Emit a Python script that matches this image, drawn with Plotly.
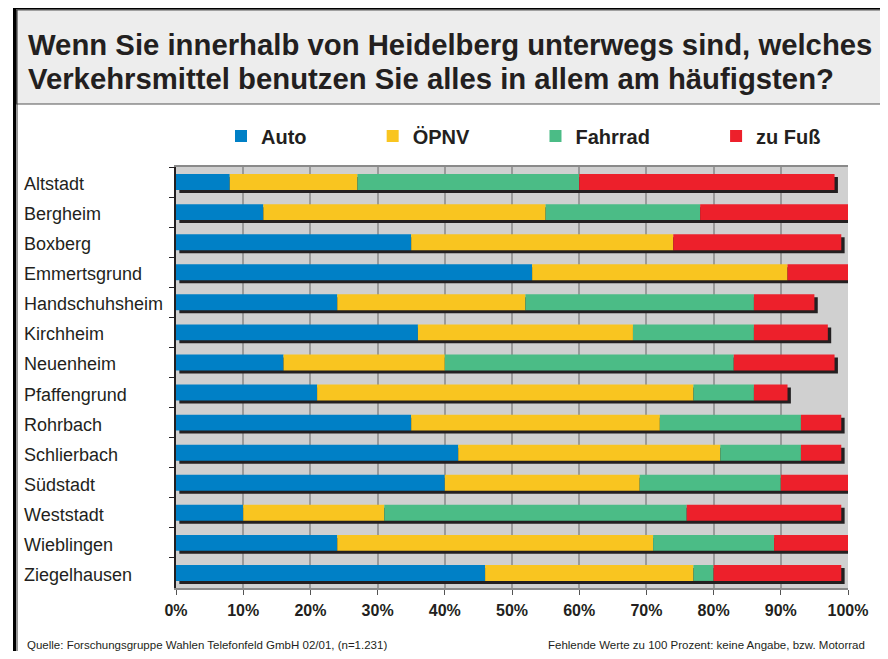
import numpy as np
import plotly.graph_objects as go

# Stadtteile und Anteile in Prozent
districts = ["Altstadt", "Bergheim", "Boxberg", "Emmertsgrund", "Handschuhsheim",
             "Kirchheim", "Neuenheim", "Pfaffengrund", "Rohrbach", "Schlierbach",
             "Südstadt", "Weststadt", "Wieblingen", "Ziegelhausen"]
auto =    [8, 13, 35, 53, 24, 36, 16, 21, 35, 42, 40, 10, 24, 46]
oepnv =   [19, 42, 39, 38, 28, 32, 24, 56, 37, 39, 29, 21, 47, 31]
fahrrad = [33, 23, 0, 0, 34, 18, 43, 9, 21, 12, 21, 45, 18, 3]
zu_fuss = [38, 22, 25, 9, 9, 11, 15, 5, 6, 6, 10, 23, 11, 19]

series = [("Auto", auto, "#0080c6"),
          ("ÖPNV", oepnv, "#f9c520"),
          ("Fahrrad", fahrrad, "#4bbc86"),
          ("zu Fuß", zu_fuss, "#ed202b")]

title_lines = ["Wenn Sie innerhalb von Heidelberg unterwegs sind, welches",
               "Verkehrsmittel benutzen Sie alles in allem am häufigsten?"]

tick_vals = list(range(0, 101, 10))
tick_text = [f"{v}%" for v in tick_vals]

FONT = "Liberation Sans, Arial, sans-serif"
DARK = "#231f20"

# the page body keeps an 8px margin all round, so the figure is drawn smaller
OFF = 8
W, H = 888 - 2 * OFF, 659 - 2 * OFF
# plot area in page pixels: 176..848 x 167..588
L, R, T, B = 176, 848, 167, 588
def px(x):
    return (x - L) / (R - L)
def py(y):
    return (B - y) / (B - T)

values = np.array([s[1] for s in series], dtype=float)
bases = np.vstack([np.zeros(len(districts)), np.cumsum(values, axis=0)[:-1]])
totals = values.sum(axis=0)

BAR_W = 0.53

fig = go.Figure()

# Schatten
fig.add_trace(go.Bar(y=districts, x=totals, base=0.5, orientation="h",
                     width=BAR_W, offset=-BAR_W / 2 + 0.1,
                     marker=dict(color=DARK, line=dict(width=0)),
                     showlegend=False, hoverinfo="skip"))

for i, ((name, vals, color), base) in enumerate(zip(series, bases)):
    pad = "\u00a0" * 11 if i < len(series) - 1 else ""
    fig.add_trace(go.Bar(y=districts, x=vals, base=base, orientation="h",
                         width=BAR_W, name=name + pad,
                         marker=dict(color=color, line=dict(width=0))))

fig.update_layout(
    width=W, height=H,
    barmode="overlay",
    paper_bgcolor="white",
    plot_bgcolor="#d0d0d0",
    margin=dict(l=L - OFF, r=(888 - OFF) - R, t=T - OFF, b=(659 - OFF) - B),
    font=dict(family=FONT, color=DARK),
    legend=dict(orientation="h", x=px(221), xanchor="left",
                y=py(136), yanchor="middle",
                font=dict(family=FONT, size=20, color=DARK, weight="bold"),
                traceorder="normal", bgcolor="rgba(0,0,0,0)"),
    showlegend=True,
)

fig.update_xaxes(range=[0, 100], tickvals=tick_vals, ticktext=tick_text,
                 showgrid=True, gridcolor="#9a9a9a", gridwidth=1.5,
                 showline=True, linecolor="#8a8a8a", linewidth=1.5, mirror=True,
                 ticks="outside", ticklen=5, tickcolor="#555",
                 tickfont=dict(family=FONT, size=16, color=DARK, weight="bold"),
                 ticklabelstandoff=2, zeroline=False, fixedrange=True)
fig.update_yaxes(autorange="reversed", showticklabels=False,
                 showline=True, linecolor=DARK, linewidth=1.5,
                 ticks="outside", tickson="boundaries", ticklen=5, tickcolor=DARK,
                 showgrid=False, fixedrange=True)

# Titel in zwei Zeilen
for line, ypix in zip(title_lines, [45, 79]):
    fig.add_annotation(x=px(26), xref="paper", xanchor="left", y=py(ypix), yref="paper",
                       yanchor="middle", text=line, showarrow=False,
                       font=dict(family=FONT, size=29.3, color=DARK, weight="bold"))

# Stadtteil-Beschriftung, linksbündig
for d in districts:
    fig.add_annotation(x=px(22), xref="paper", xanchor="left", y=d, yref="y",
                       yshift=-2, text=d, showarrow=False,
                       font=dict(family=FONT, size=18, color=DARK))

fig.add_annotation(x=px(25), xref="paper", xanchor="left", y=py(645), yref="paper",
                   yanchor="middle", showarrow=False,
                   text="Quelle: Forschungsgruppe Wahlen Telefonfeld GmbH 02/01, (n=1.231)",
                   font=dict(family=FONT, size=11.5, color=DARK))
fig.add_annotation(x=px(867), xref="paper", xanchor="right", y=py(645), yref="paper",
                   yanchor="middle", showarrow=False,
                   text="Fehlende Werte zu 100 Prozent: keine Angabe, bzw. Motorrad",
                   font=dict(family=FONT, size=11.5, color=DARK))

# Titelkasten und Rahmen
fig.add_shape(type="rect", xref="paper", yref="paper", layer="below",
              x0=px(16.5), x1=px(900), y0=py(104), y1=py(10),
              fillcolor="#ededed", line=dict(color="#555", width=1.2))
fig.add_shape(type="line", xref="paper", yref="paper",
              x0=px(14.5), x1=px(900), y0=py(8), y1=py(8),
              line=dict(color="black", width=3))
fig.add_shape(type="line", xref="paper", yref="paper",
              x0=px(14.5), x1=px(14.5), y0=py(8), y1=py(670),
              line=dict(color="black", width=3))
fig.add_shape(type="line", xref="paper", yref="paper",
              x0=px(17), x1=px(17), y0=py(10), y1=py(670),
              line=dict(color="#333", width=1))

fig.write_html("out.html")
